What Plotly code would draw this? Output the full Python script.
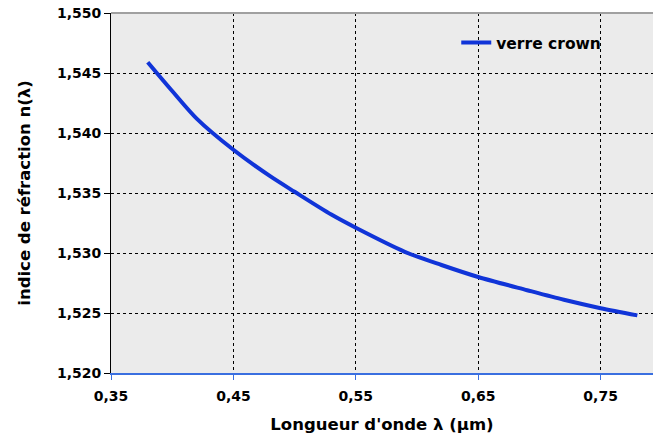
import plotly.graph_objects as go

# Data
wavelength_um = [0.38, 0.40, 0.42, 0.45, 0.48, 0.50, 0.53, 0.55, 0.59, 0.62, 0.65, 0.69, 0.72, 0.75, 0.78]
n_crown = [1.5459, 1.5435, 1.5412, 1.5386, 1.5364, 1.5351, 1.5332, 1.5321, 1.5301, 1.5290,
           1.5280, 1.5269, 1.5261, 1.5254, 1.5248]
series_name = "verre crown"
x_title = "Longueur d'onde λ (μm)"
y_title = "indice de réfraction n(λ)"

FONT = "DejaVu Sans"

fig = go.Figure()
fig.add_trace(go.Scatter(
    x=wavelength_um, y=n_crown, mode="lines", name=series_name,
    line=dict(color="#1034D8", width=4, shape="spline", smoothing=0.8),
))

fig.update_layout(
    width=653, height=443,
    margin=dict(l=111, r=0, t=13, b=70),
    paper_bgcolor="white",
    plot_bgcolor="#EBEBEB",
    separators=", ",
    font=dict(family=FONT, size=14, color="black"),
    showlegend=True,
    legend=dict(x=0.637, y=0.917, xanchor="left", yanchor="middle",
                bgcolor="rgba(0,0,0,0)",
                font=dict(family=FONT, size=15.5, color="black", weight="bold"),
                itemwidth=30),
    xaxis=dict(
        range=[0.35, 0.7928], tick0=0.35, dtick=0.1, tickformat=".2f",
        showgrid=True, gridcolor="black", griddash="dot", gridwidth=1,
        showline=True, linecolor="#3A6FE0", linewidth=2,
        ticks="outside", ticklen=5, tickcolor="#3A6FE0", tickwidth=1,
        ticklabelstandoff=4,
        tickfont=dict(family=FONT, size=14, color="black", weight="bold"),
        title=dict(text=x_title, font=dict(family=FONT, size=16.5, color="black", weight="bold"), standoff=16),
        zeroline=False,
    ),
    yaxis=dict(
        range=[1.520, 1.550], tick0=1.520, dtick=0.005, tickformat=".3f",
        showgrid=True, gridcolor="black", griddash="dot", gridwidth=1,
        showline=True, linecolor="black", linewidth=1,
        ticks="outside", ticklen=6, tickcolor="black", tickwidth=1,
        tickfont=dict(family=FONT, size=14, color="black", weight="bold"),
        title=dict(text=y_title, font=dict(family=FONT, size=16.5, color="black", weight="bold"), standoff=22),
        zeroline=False,
    ),
)
# top border of plot area
fig.add_shape(type="line", xref="paper", yref="paper", x0=0, x1=1, y0=1, y1=1,
              line=dict(color="#A0A0A0", width=2))

fig.write_html("out.html")
